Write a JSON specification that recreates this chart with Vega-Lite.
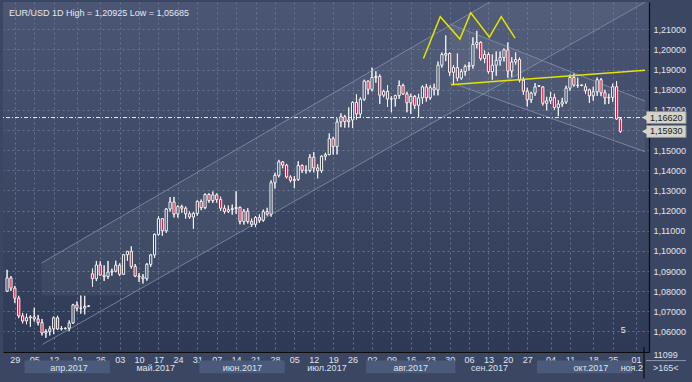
{
"$schema": "https://vega.github.io/schema/vega-lite/v6.json",
"width": 646, "height": 350,
"autosize": {"type": "none"},
"padding": {"left": 3, "top": 2, "right": 43, "bottom": 30},
"background": "#3a4662",
"config": {
  "view": {"stroke": null, "fill": {"gradient": "linear", "x1": 0, "y1": 0, "x2": 0, "y2": 1, "stops": [{"offset": 0, "color": "#4a5674"}, {"offset": 1, "color": "#2e3a55"}]}},
  "text": {"font": "Liberation Sans", "fontSize": 9, "color": "#e2e6ee"},
  "axis": {"labelOverlap": false, "labelFlush": false, "labelBound": false, "ticks": false, "grid": true,
    "gridColor": "#67738e", "gridDash": [2, 3], "gridWidth": 1, "domain": true, "domainColor": "#0c0c0c", "domainWidth": 1.2,
    "labelColor": "#e0e5ee", "labelFont": "Liberation Sans", "labelFontSize": 9, "tickCount": 100}
},
"datasets": {
"candles": [
{"i":0,"d":"2017-03-27","o":1.0800,"h":1.0906,"l":1.0796,"c":1.0866},
{"i":1,"d":"2017-03-28","o":1.0866,"h":1.0875,"l":1.0801,"c":1.0815},
{"i":2,"d":"2017-03-29","o":1.0815,"h":1.0826,"l":1.0741,"c":1.0765},
{"i":3,"d":"2017-03-30","o":1.0765,"h":1.0777,"l":1.0666,"c":1.0677},
{"i":4,"d":"2017-03-31","o":1.0677,"h":1.0692,"l":1.0640,"c":1.0652},
{"i":5,"d":"2017-04-03","o":1.0652,"h":1.0688,"l":1.0636,"c":1.0668},
{"i":6,"d":"2017-04-04","o":1.0668,"h":1.0680,"l":1.0623,"c":1.0672},
{"i":7,"d":"2017-04-05","o":1.0672,"h":1.0718,"l":1.0649,"c":1.0662},
{"i":8,"d":"2017-04-06","o":1.0662,"h":1.0682,"l":1.0630,"c":1.0644},
{"i":9,"d":"2017-04-07","o":1.0644,"h":1.0662,"l":1.0580,"c":1.0592},
{"i":10,"d":"2017-04-10","o":1.0592,"h":1.0611,"l":1.05685,"c":1.0600},
{"i":11,"d":"2017-04-11","o":1.0600,"h":1.0627,"l":1.0580,"c":1.0613},
{"i":12,"d":"2017-04-12","o":1.0613,"h":1.0674,"l":1.0587,"c":1.0668},
{"i":13,"d":"2017-04-13","o":1.0668,"h":1.0678,"l":1.0607,"c":1.0612},
{"i":14,"d":"2017-04-14","o":1.0612,"h":1.0627,"l":1.0605,"c":1.0614},
{"i":15,"d":"2017-04-16","o":1.0614,"h":1.0620,"l":1.0610,"c":1.0616},
{"i":16,"d":"2017-04-17","o":1.0616,"h":1.0655,"l":1.0602,"c":1.0642},
{"i":17,"d":"2017-04-18","o":1.0642,"h":1.0737,"l":1.0637,"c":1.0732},
{"i":18,"d":"2017-04-19","o":1.0732,"h":1.0749,"l":1.0700,"c":1.0715},
{"i":19,"d":"2017-04-20","o":1.0715,"h":1.0778,"l":1.0688,"c":1.0716},
{"i":20,"d":"2017-04-21","o":1.0716,"h":1.0777,"l":1.0685,"c":1.0725},
{"i":21,"d":"2017-04-23","o":1.0725,"h":1.0730,"l":1.0722,"c":1.0727},
{"i":22,"d":"2017-04-24","o":1.0886,"h":1.0912,"l":1.0822,"c":1.0862},
{"i":23,"d":"2017-04-25","o":1.0862,"h":1.0950,"l":1.0850,"c":1.0930},
{"i":24,"d":"2017-04-26","o":1.0930,"h":1.0948,"l":1.0878,"c":1.0880},
{"i":25,"d":"2017-04-27","o":1.0880,"h":1.0928,"l":1.0851,"c":1.0873},
{"i":26,"d":"2017-04-28","o":1.0873,"h":1.0950,"l":1.0861,"c":1.0895},
{"i":27,"d":"2017-05-01","o":1.0895,"h":1.0912,"l":1.0877,"c":1.0899},
{"i":28,"d":"2017-05-02","o":1.0899,"h":1.0951,"l":1.0894,"c":1.0929},
{"i":29,"d":"2017-05-03","o":1.0929,"h":1.0938,"l":1.0875,"c":1.0884},
{"i":30,"d":"2017-05-04","o":1.0884,"h":1.0985,"l":1.0880,"c":1.0981},
{"i":31,"d":"2017-05-05","o":1.0981,"h":1.0999,"l":1.0950,"c":1.0998},
{"i":32,"d":"2017-05-08","o":1.0998,"h":1.1023,"l":1.0912,"c":1.0923},
{"i":33,"d":"2017-05-09","o":1.0923,"h":1.0935,"l":1.0870,"c":1.0875},
{"i":34,"d":"2017-05-10","o":1.0875,"h":1.0890,"l":1.0846,"c":1.0871},
{"i":35,"d":"2017-05-11","o":1.0871,"h":1.0885,"l":1.0838,"c":1.0862},
{"i":36,"d":"2017-05-12","o":1.0862,"h":1.0940,"l":1.0852,"c":1.0933},
{"i":37,"d":"2017-05-15","o":1.0933,"h":1.0985,"l":1.0921,"c":1.0980},
{"i":38,"d":"2017-05-16","o":1.0980,"h":1.1086,"l":1.0965,"c":1.1082},
{"i":39,"d":"2017-05-17","o":1.1082,"h":1.1172,"l":1.1075,"c":1.1160},
{"i":40,"d":"2017-05-18","o":1.1160,"h":1.1163,"l":1.1075,"c":1.1100},
{"i":41,"d":"2017-05-19","o":1.1100,"h":1.1213,"l":1.1090,"c":1.1208},
{"i":42,"d":"2017-05-22","o":1.1208,"h":1.1267,"l":1.1195,"c":1.1243},
{"i":43,"d":"2017-05-23","o":1.1243,"h":1.1268,"l":1.1166,"c":1.1183},
{"i":44,"d":"2017-05-24","o":1.1183,"h":1.1226,"l":1.1165,"c":1.1220},
{"i":45,"d":"2017-05-25","o":1.1220,"h":1.1229,"l":1.1190,"c":1.1212},
{"i":46,"d":"2017-05-26","o":1.1212,"h":1.1220,"l":1.1160,"c":1.1184},
{"i":47,"d":"2017-05-29","o":1.1184,"h":1.1195,"l":1.1160,"c":1.1168},
{"i":48,"d":"2017-05-30","o":1.1168,"h":1.1192,"l":1.1110,"c":1.1186},
{"i":49,"d":"2017-05-31","o":1.1186,"h":1.1251,"l":1.1175,"c":1.1245},
{"i":50,"d":"2017-06-01","o":1.1245,"h":1.1255,"l":1.1202,"c":1.1215},
{"i":51,"d":"2017-06-02","o":1.1215,"h":1.1285,"l":1.1207,"c":1.1280},
{"i":52,"d":"2017-06-05","o":1.1280,"h":1.1286,"l":1.1239,"c":1.1250},
{"i":53,"d":"2017-06-06","o":1.1250,"h":1.1295,"l":1.1238,"c":1.1278},
{"i":54,"d":"2017-06-07","o":1.1278,"h":1.1285,"l":1.1240,"c":1.1255},
{"i":55,"d":"2017-06-08","o":1.1255,"h":1.1269,"l":1.1198,"c":1.1212},
{"i":56,"d":"2017-06-09","o":1.1212,"h":1.1228,"l":1.1185,"c":1.1196},
{"i":57,"d":"2017-06-12","o":1.1196,"h":1.1225,"l":1.1188,"c":1.1205},
{"i":58,"d":"2017-06-13","o":1.1205,"h":1.1230,"l":1.1180,"c":1.1210},
{"i":59,"d":"2017-06-14","o":1.1210,"h":1.1296,"l":1.1183,"c":1.1216},
{"i":60,"d":"2017-06-15","o":1.1216,"h":1.1220,"l":1.1132,"c":1.1146},
{"i":61,"d":"2017-06-16","o":1.1146,"h":1.1208,"l":1.1131,"c":1.1197},
{"i":62,"d":"2017-06-19","o":1.1197,"h":1.1212,"l":1.1136,"c":1.1146},
{"i":63,"d":"2017-06-20","o":1.1146,"h":1.1160,"l":1.1119,"c":1.1132},
{"i":64,"d":"2017-06-21","o":1.1132,"h":1.1173,"l":1.1118,"c":1.1166},
{"i":65,"d":"2017-06-22","o":1.1166,"h":1.1181,"l":1.1139,"c":1.1152},
{"i":66,"d":"2017-06-23","o":1.1152,"h":1.1205,"l":1.1145,"c":1.1195},
{"i":67,"d":"2017-06-26","o":1.1195,"h":1.1214,"l":1.1175,"c":1.1182},
{"i":68,"d":"2017-06-27","o":1.1182,"h":1.1350,"l":1.1170,"c":1.1338},
{"i":69,"d":"2017-06-28","o":1.1338,"h":1.1388,"l":1.1310,"c":1.1375},
{"i":70,"d":"2017-06-29","o":1.1375,"h":1.1452,"l":1.1365,"c":1.1442},
{"i":71,"d":"2017-06-30","o":1.1442,"h":1.1446,"l":1.1410,"c":1.1426},
{"i":72,"d":"2017-07-03","o":1.1426,"h":1.1432,"l":1.1360,"c":1.1367},
{"i":73,"d":"2017-07-04","o":1.1367,"h":1.1375,"l":1.1340,"c":1.1350},
{"i":74,"d":"2017-07-05","o":1.1350,"h":1.1372,"l":1.1312,"c":1.1355},
{"i":75,"d":"2017-07-06","o":1.1355,"h":1.1445,"l":1.1348,"c":1.1424},
{"i":76,"d":"2017-07-07","o":1.1424,"h":1.1429,"l":1.1387,"c":1.1400},
{"i":77,"d":"2017-07-10","o":1.1400,"h":1.1424,"l":1.1384,"c":1.1399},
{"i":78,"d":"2017-07-11","o":1.1399,"h":1.1480,"l":1.1390,"c":1.1465},
{"i":79,"d":"2017-07-12","o":1.1465,"h":1.1490,"l":1.1390,"c":1.1412},
{"i":80,"d":"2017-07-13","o":1.1412,"h":1.1430,"l":1.1360,"c":1.1398},
{"i":81,"d":"2017-07-14","o":1.1398,"h":1.1475,"l":1.1387,"c":1.1470},
{"i":82,"d":"2017-07-17","o":1.1470,"h":1.1487,"l":1.1450,"c":1.1478},
{"i":83,"d":"2017-07-18","o":1.1478,"h":1.1583,"l":1.1475,"c":1.1557},
{"i":84,"d":"2017-07-19","o":1.1557,"h":1.1567,"l":1.1478,"c":1.1518},
{"i":85,"d":"2017-07-20","o":1.1518,"h":1.1658,"l":1.1479,"c":1.1640},
{"i":86,"d":"2017-07-21","o":1.1640,"h":1.1683,"l":1.1614,"c":1.1666},
{"i":87,"d":"2017-07-24","o":1.1666,"h":1.1675,"l":1.1612,"c":1.1642},
{"i":88,"d":"2017-07-25","o":1.1642,"h":1.1712,"l":1.1613,"c":1.1650},
{"i":89,"d":"2017-07-26","o":1.1650,"h":1.1742,"l":1.1610,"c":1.1737},
{"i":90,"d":"2017-07-27","o":1.1737,"h":1.1777,"l":1.1652,"c":1.1680},
{"i":91,"d":"2017-07-28","o":1.1680,"h":1.1762,"l":1.1665,"c":1.1753},
{"i":92,"d":"2017-07-31","o":1.1753,"h":1.1850,"l":1.1745,"c":1.1843},
{"i":93,"d":"2017-08-01","o":1.1843,"h":1.1846,"l":1.1777,"c":1.1802},
{"i":94,"d":"2017-08-02","o":1.1802,"h":1.1910,"l":1.1792,"c":1.1861},
{"i":95,"d":"2017-08-03","o":1.1861,"h":1.1892,"l":1.1835,"c":1.1866},
{"i":96,"d":"2017-08-04","o":1.1866,"h":1.1876,"l":1.1729,"c":1.1773},
{"i":97,"d":"2017-08-07","o":1.1773,"h":1.1800,"l":1.1763,"c":1.1792},
{"i":98,"d":"2017-08-08","o":1.1792,"h":1.1822,"l":1.1715,"c":1.1754},
{"i":99,"d":"2017-08-09","o":1.1754,"h":1.1768,"l":1.1688,"c":1.1755},
{"i":100,"d":"2017-08-10","o":1.1755,"h":1.1775,"l":1.1717,"c":1.1771},
{"i":101,"d":"2017-08-11","o":1.1771,"h":1.1846,"l":1.1755,"c":1.1821},
{"i":102,"d":"2017-08-14","o":1.1821,"h":1.1830,"l":1.1775,"c":1.1779},
{"i":103,"d":"2017-08-15","o":1.1779,"h":1.1790,"l":1.1688,"c":1.1735},
{"i":104,"d":"2017-08-16","o":1.1735,"h":1.1780,"l":1.1680,"c":1.1767},
{"i":105,"d":"2017-08-17","o":1.1767,"h":1.1774,"l":1.1705,"c":1.1723},
{"i":106,"d":"2017-08-18","o":1.1723,"h":1.1780,"l":1.1662,"c":1.1760},
{"i":107,"d":"2017-08-21","o":1.1760,"h":1.1822,"l":1.1730,"c":1.1814},
{"i":108,"d":"2017-08-22","o":1.1814,"h":1.1829,"l":1.1741,"c":1.1760},
{"i":109,"d":"2017-08-23","o":1.1760,"h":1.1822,"l":1.1750,"c":1.1810},
{"i":110,"d":"2017-08-24","o":1.1810,"h":1.1830,"l":1.1772,"c":1.1799},
{"i":111,"d":"2017-08-25","o":1.1799,"h":1.1940,"l":1.1772,"c":1.1922},
{"i":112,"d":"2017-08-28","o":1.1922,"h":1.1985,"l":1.1910,"c":1.1975},
{"i":113,"d":"2017-08-29","o":1.1972,"h":1.2070,"l":1.1942,"c":1.1980},
{"i":114,"d":"2017-08-30","o":1.1980,"h":1.1985,"l":1.1868,"c":1.1887},
{"i":115,"d":"2017-08-31","o":1.1887,"h":1.1922,"l":1.1823,"c":1.1910},
{"i":116,"d":"2017-09-01","o":1.1910,"h":1.1980,"l":1.1843,"c":1.1858},
{"i":117,"d":"2017-09-04","o":1.1858,"h":1.1903,"l":1.1850,"c":1.1890},
{"i":118,"d":"2017-09-05","o":1.1890,"h":1.1925,"l":1.1870,"c":1.1915},
{"i":119,"d":"2017-09-06","o":1.1915,"h":1.1938,"l":1.1895,"c":1.1920},
{"i":120,"d":"2017-09-07","o":1.1920,"h":1.2060,"l":1.1905,"c":1.2025},
{"i":121,"d":"2017-09-08","o":1.2025,"h":1.20925,"l":1.2005,"c":1.2035},
{"i":122,"d":"2017-09-11","o":1.2035,"h":1.2040,"l":1.1945,"c":1.1955},
{"i":123,"d":"2017-09-12","o":1.1955,"h":1.1995,"l":1.1932,"c":1.1975},
{"i":124,"d":"2017-09-13","o":1.1975,"h":1.1985,"l":1.1880,"c":1.1890},
{"i":125,"d":"2017-09-14","o":1.1890,"h":1.1975,"l":1.1850,"c":1.1922},
{"i":126,"d":"2017-09-15","o":1.1922,"h":1.1990,"l":1.1870,"c":1.1946},
{"i":127,"d":"2017-09-18","o":1.1946,"h":1.1990,"l":1.1920,"c":1.1960},
{"i":128,"d":"2017-09-19","o":1.1960,"h":1.2005,"l":1.1940,"c":1.1998},
{"i":129,"d":"2017-09-20","o":1.1998,"h":1.2035,"l":1.1860,"c":1.1893},
{"i":130,"d":"2017-09-21","o":1.1893,"h":1.1961,"l":1.1862,"c":1.1938},
{"i":131,"d":"2017-09-22","o":1.1938,"h":1.1985,"l":1.1925,"c":1.1950},
{"i":132,"d":"2017-09-25","o":1.1950,"h":1.1960,"l":1.1837,"c":1.1847},
{"i":133,"d":"2017-09-26","o":1.1847,"h":1.1862,"l":1.1775,"c":1.1793},
{"i":134,"d":"2017-09-27","o":1.1793,"h":1.1810,"l":1.1717,"c":1.1750},
{"i":135,"d":"2017-09-28","o":1.1750,"h":1.1790,"l":1.1735,"c":1.1783},
{"i":136,"d":"2017-09-29","o":1.1783,"h":1.1833,"l":1.1770,"c":1.1814},
{"i":137,"d":"2017-10-01","o":1.1818,"h":1.1822,"l":1.1814,"c":1.1820},
{"i":138,"d":"2017-10-02","o":1.1814,"h":1.1818,"l":1.1722,"c":1.1733},
{"i":139,"d":"2017-10-03","o":1.1733,"h":1.1765,"l":1.1698,"c":1.1745},
{"i":140,"d":"2017-10-04","o":1.1745,"h":1.1790,"l":1.1730,"c":1.1761},
{"i":141,"d":"2017-10-05","o":1.1761,"h":1.1780,"l":1.1700,"c":1.1712},
{"i":142,"d":"2017-10-06","o":1.1712,"h":1.1749,"l":1.1669,"c":1.1729},
{"i":143,"d":"2017-10-09","o":1.1729,"h":1.1760,"l":1.1715,"c":1.1739},
{"i":144,"d":"2017-10-10","o":1.1739,"h":1.1820,"l":1.1730,"c":1.1808},
{"i":145,"d":"2017-10-11","o":1.1808,"h":1.1875,"l":1.1795,"c":1.1861},
{"i":146,"d":"2017-10-12","o":1.1861,"h":1.1880,"l":1.1815,"c":1.1823},
{"i":147,"d":"2017-10-13","o":1.1823,"h":1.1860,"l":1.1810,"c":1.1821},
{"i":148,"d":"2017-10-15","o":1.1821,"h":1.1826,"l":1.1818,"c":1.1824},
{"i":149,"d":"2017-10-16","o":1.1815,"h":1.1830,"l":1.1780,"c":1.1795},
{"i":150,"d":"2017-10-17","o":1.1800,"h":1.1805,"l":1.1735,"c":1.1770},
{"i":151,"d":"2017-10-18","o":1.1770,"h":1.1815,"l":1.1745,"c":1.1790},
{"i":152,"d":"2017-10-19","o":1.1790,"h":1.1861,"l":1.1770,"c":1.1850},
{"i":153,"d":"2017-10-20","o":1.1850,"h":1.1858,"l":1.1768,"c":1.1785},
{"i":154,"d":"2017-10-23","o":1.1785,"h":1.1800,"l":1.1728,"c":1.1760},
{"i":155,"d":"2017-10-24","o":1.1760,"h":1.1780,"l":1.1730,"c":1.1762},
{"i":156,"d":"2017-10-25","o":1.1762,"h":1.1830,"l":1.1740,"c":1.1815},
{"i":157,"d":"2017-10-26","o":1.1815,"h":1.1843,"l":1.1650,"c":1.1655},
{"i":158,"d":"2017-10-27","o":1.1655,"h":1.1660,"l":1.1586,"c":1.1593}
],
"shadeUp": [
{"x":8.86,"t":1.09396,"b":1.07785},
{"x":31.18,"t":1.11899,"b":1.07785},
{"x":123.75,"t":1.22302,"b":1.17896},
{"x":164.3,"t":1.26836,"b":1.22346}
],
"shadeDown": [
{"x":114.37,"t":1.21241,"b":1.18347},
{"x":164.33,"t":1.17441,"b":1.14928}
],
"channels": [
{"x1":8.86,"y1":1.09396,"x2":164.3,"y2":1.26836},
{"x1":9.11,"y1":1.05359,"x2":164.33,"y2":1.22346},
{"x1":114.37,"y1":1.21241,"x2":164.33,"y2":1.17441},
{"x1":114.37,"y1":1.18347,"x2":164.33,"y2":1.14928}
],
"zigzag": [
{"k":0,"x":107.26,"p":1.19553},
{"k":1,"x":111.58,"p":1.21627},
{"k":2,"x":116.65,"p":1.20518},
{"k":3,"x":119.43,"p":1.21820},
{"k":4,"x":124.25,"p":1.20614},
{"k":5,"x":127.30,"p":1.21627},
{"k":6,"x":130.85,"p":1.20566}
],
"neck": [{"x1":114.37,"y1":1.18251,"x2":164.33,"y2":1.18974}],
"tags": [{"p":1.1662,"t":"1,16620"},{"p":1.1593,"t":"1,15930"}],
"months": [
{"s":4.5,"e":26.5,"m":15.96,"t":"апр.2017","band":1},
{"s":26.5,"e":49.5,"m":38.3,"t":"май.2017","band":0},
{"s":49.5,"e":71.5,"m":60.6,"t":"июн.2017","band":1},
{"s":71.5,"e":92.5,"m":82.4,"t":"июл.2017","band":0},
{"s":92.5,"e":115.5,"m":103.97,"t":"авг.2017","band":1},
{"s":115.5,"e":136.5,"m":124.3,"t":"сен.2017","band":0},
{"s":136.5,"e":161,"m":150.4,"t":"окт.2017","band":1}
]
},
"layer": [
{
  "data": {"name": "candles"},
  "mark": {"type": "rule", "color": "#f2f2f2", "strokeWidth": 1, "clip": true},
  "encoding": {
    "x": {"field": "i", "type": "quantitative",
      "scale": {"domain": [0.238, 164.07], "nice": false, "zero": false},
      "axis": {"title": null, "orient": "bottom", "tickCount": 100,
        "values": [2,7,12,18,24,29,34,39,44,49,54,59,64,69,74,79,84,89,94,99,104,109,114,119,124,129,134,140,145,151,156,162],
        "labelExpr": "['29','05','12','19','26','03','10','17','24','31','07','14','21','28','05','12','19','26','02','09','16','23','30','06','13','20','27','04','11','18','25','01'][indexof([2,7,12,18,24,29,34,39,44,49,54,59,64,69,74,79,84,89,94,99,104,109,114,119,124,129,134,140,145,151,156,162], datum.value)]",
        "labelPadding": 3, "labelOverlap": false}},
    "y": {"field": "l", "type": "quantitative",
      "scale": {"domain": [1.05228, 1.22109], "nice": false, "zero": false},
      "axis": {"title": null, "orient": "right", "tickCount": 100,
        "values": [1.06,1.07,1.08,1.09,1.10,1.11,1.12,1.13,1.14,1.15,1.16,1.17,1.18,1.19,1.20,1.21],
        "labelExpr": "abs(datum.value - 1.16) < 0.001 ? '' : replace(format(datum.value, '.5f'), '.', ',')",
        "labelPadding": 4, "labelAlign": "left", "labelBaseline": "middle", "labelOverlap": false}},
    "y2": {"field": "h"}
  }
},
{
  "data": {"name": "shadeUp"},
  "mark": {"type": "area", "color": "#ffffff", "opacity": 0.05, "clip": true},
  "encoding": {
    "x": {"field": "x", "type": "quantitative"},
    "y": {"field": "t", "type": "quantitative"},
    "y2": {"field": "b"}
  }
},
{
  "data": {"name": "shadeDown"},
  "mark": {"type": "area", "color": "#ffffff", "opacity": 0.05, "clip": true},
  "encoding": {
    "x": {"field": "x", "type": "quantitative"},
    "y": {"field": "t", "type": "quantitative"},
    "y2": {"field": "b"}
  }
},
{
  "data": {"name": "channels"},
  "mark": {"type": "rule", "color": "#8491ab", "strokeWidth": 1, "opacity": 0.8, "clip": true},
  "encoding": {
    "x": {"field": "x1", "type": "quantitative"},
    "x2": {"field": "x2"},
    "y": {"field": "y1", "type": "quantitative"},
    "y2": {"field": "y2"}
  }
},
{
  "data": {"values": [{"p": 1.1662}]},
  "mark": {"type": "rule", "color": "#f0f0f0", "strokeWidth": 1, "strokeDash": [4, 2, 1, 2], "clip": true},
  "encoding": {
    "y": {"field": "p", "type": "quantitative"}
  }
},
{
  "data": {"name": "candles"},
  "mark": {"type": "rule", "color": "#f2f2f2", "strokeWidth": 1, "clip": true},
  "encoding": {
    "x": {"field": "i", "type": "quantitative"},
    "y": {"field": "l", "type": "quantitative"},
    "y2": {"field": "h"}
  }
},
{
  "data": {"name": "candles"},
  "mark": {"type": "bar", "width": 2.2, "stroke": "#f4f4f4", "strokeWidth": 1, "clip": true},
  "encoding": {
    "x": {"field": "i", "type": "quantitative"},
    "y": {"field": "o", "type": "quantitative"},
    "y2": {"field": "c"},
    "fill": {"condition": {"test": "datum.c < datum.o", "value": "#dc143c"}, "value": "#34405c"}
  }
},
{
  "data": {"name": "zigzag"},
  "mark": {"type": "line", "color": "#e4e400", "strokeWidth": 1.5, "clip": true},
  "encoding": {
    "x": {"field": "x", "type": "quantitative"},
    "y": {"field": "p", "type": "quantitative"},
    "order": {"field": "k"}
  }
},
{
  "data": {"name": "neck"},
  "mark": {"type": "rule", "color": "#e4e400", "strokeWidth": 1.5, "clip": true},
  "encoding": {
    "x": {"field": "x1", "type": "quantitative"},
    "x2": {"field": "x2"},
    "y": {"field": "y1", "type": "quantitative"},
    "y2": {"field": "y2"}
  }
},
{
  "data": {"values": [{"t": "EUR/USD 1D High = 1,20925 Low = 1,05685"}]},
  "mark": {"type": "text", "align": "left", "baseline": "top", "dx": 1, "dy": 2, "fontSize": 9, "color": "#e6e9f0"},
  "encoding": {
    "x": {"datum": 0.238, "type": "quantitative"},
    "y": {"datum": 1.22109, "type": "quantitative"},
    "text": {"field": "t"}
  }
},
{
  "data": {"values": [{"t": "5"}]},
  "mark": {"type": "text", "align": "center", "baseline": "middle", "fontSize": 9, "color": "#e6e9f0"},
  "encoding": {
    "x": {"datum": 158.7, "type": "quantitative"},
    "y": {"datum": 1.06096, "type": "quantitative"},
    "text": {"field": "t"}
  }
},
{
  "data": {"name": "tags"},
  "mark": {"type": "bar", "height": 12, "color": "#d2d3ca", "stroke": "#8c8f88", "strokeWidth": 1, "clip": false},
  "encoding": {
    "x": {"datum": 164.7, "type": "quantitative"},
    "x2": {"datum": 174.9},
    "y": {"field": "p", "type": "quantitative"}
  }
},
{
  "data": {"name": "tags"},
  "mark": {"type": "point", "shape": "triangle-left", "size": 40, "filled": true, "color": "#d2d3ca", "opacity": 1, "clip": false},
  "encoding": {
    "x": {"datum": 164.25, "type": "quantitative"},
    "y": {"field": "p", "type": "quantitative"}
  }
},
{
  "data": {"name": "tags"},
  "mark": {"type": "text", "align": "center", "baseline": "middle", "fontSize": 9, "color": "#1c1c1c", "clip": false},
  "encoding": {
    "x": {"datum": 169.8, "type": "quantitative"},
    "y": {"field": "p", "type": "quantitative"},
    "text": {"field": "t"}
  }
},
{
  "data": {"name": "months"},
  "transform": [{"filter": "datum.band == 1"}],
  "mark": {"type": "rect", "color": "#4b597a", "clip": false},
  "encoding": {
    "x": {"field": "s", "type": "quantitative"},
    "x2": {"field": "e"},
    "y": {"datum": 1.04553, "type": "quantitative"},
    "y2": {"datum": 1.03926}
  }
},
{
  "data": {"name": "months"},
  "mark": {"type": "text", "align": "center", "baseline": "middle", "fontSize": 9, "color": "#dde3ec", "clip": false},
  "encoding": {
    "x": {"field": "m", "type": "quantitative"},
    "y": {"datum": 1.0418, "type": "quantitative"},
    "text": {"field": "t"}
  }
},
{
  "data": {"values": [{"t": "ноя.2"}]},
  "mark": {"type": "text", "align": "right", "baseline": "middle", "fontSize": 9, "color": "#dde3ec", "dx": -1, "clip": false},
  "encoding": {
    "x": {"datum": 164.07, "type": "quantitative"},
    "y": {"datum": 1.0418, "type": "quantitative"},
    "text": {"field": "t"}
  }
},
{
  "data": {"values": [{"t": "11099", "p": 1.04842}, {"t": ">165<", "p": 1.04167}]},
  "mark": {"type": "text", "align": "center", "baseline": "middle", "fontSize": 9, "color": "#dde3ec", "clip": false},
  "encoding": {
    "x": {"datum": 169.65, "type": "quantitative"},
    "y": {"field": "p", "type": "quantitative"},
    "text": {"field": "t"}
  }
},
{
  "data": {"values": [{"p": 1.04553}]},
  "mark": {"type": "rule", "color": "#8d98ad", "strokeWidth": 1, "clip": false},
  "encoding": {
    "x": {"datum": 164.6, "type": "quantitative"},
    "x2": {"datum": 174.9},
    "y": {"field": "p", "type": "quantitative"}
  }
},
{
  "data": {"values": [{"p": 1.05228, "q": 1.0365}]},
  "mark": {"type": "rule", "color": "#0c0c0c", "strokeWidth": 1.2, "clip": false},
  "encoding": {
    "x": {"datum": 164.07, "type": "quantitative"},
    "y": {"field": "p", "type": "quantitative"},
    "y2": {"field": "q"}
  }
}
]
}
